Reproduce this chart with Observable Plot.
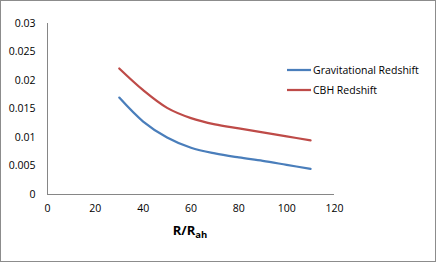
<!DOCTYPE html>
<html>
<head>
<meta charset="utf-8">
<script src="https://cdn.jsdelivr.net/npm/d3@7"></script>
<script src="https://cdn.jsdelivr.net/npm/@observablehq/plot@0.6"></script>
<style>
  html, body { margin: 0; padding: 0; background: #fff; }
  #chart { position: relative; width: 436px; height: 262px; }
</style>
</head>
<body>
<div id="chart"></div>
<script>
const xValues = [30, 40, 50, 60, 70, 80, 90, 100, 110];
const gravitational = [0.0170, 0.0128, 0.0100, 0.0082, 0.0072, 0.0065, 0.0059, 0.0052, 0.0045];
const cbh = [0.0221, 0.0183, 0.0152, 0.0134, 0.0123, 0.0116, 0.0109, 0.0102, 0.0095];
const seriesNames = ["Gravitational Redshift", "CBH Redshift"];
const seriesColors = ["#4A7EBB", "#BE4B48"];
const xTicks = [0, 20, 40, 60, 80, 100, 120];
const yTicks = [0, 0.005, 0.01, 0.015, 0.02, 0.025, 0.03];

const data = [];
xValues.forEach((x, i) => {
  data.push({x, y: gravitational[i], s: seriesNames[0]});
  data.push({x, y: cbh[i], s: seriesNames[1]});
});

const font = "'Open Sans', 'Liberation Sans', sans-serif";
const plot = Plot.plot({
  width: 436,
  height: 262,
  marginLeft: 47,
  marginRight: 102,
  marginTop: 23,
  marginBottom: 68,
  style: {fontFamily: font, fontSize: "10.5px", color: "#000", background: "#fff"},
  x: {domain: [0, 120], ticks: xTicks, label: null},
  y: {domain: [0, 0.03], ticks: yTicks, label: null},
  color: {domain: seriesNames, range: seriesColors},
  marks: [
    Plot.axisX({ticks: xTicks, tickSize: 0, tickPadding: 10, tickFormat: d => String(d), fill: "#000", fontSize: 10.5}),
    Plot.axisY({ticks: yTicks, tickSize: 0, tickPadding: 12, tickFormat: d => String(d), fill: "#000", fontSize: 10.5}),
    Plot.ruleX([0], {stroke: "#868686", strokeWidth: 1}),
    Plot.ruleY([0], {stroke: "#868686", strokeWidth: 1}),
    Plot.line(data, {x: "x", y: "y", z: "s", stroke: "s", strokeWidth: 2.25, curve: "catmull-rom"})
  ]
});
document.getElementById("chart").appendChild(plot);

const svg = d3.select(plot);
// outer border
svg.append("rect").attr("x", 0.5).attr("y", 0.5).attr("width", 435).attr("height", 261)
  .attr("fill", "none").attr("stroke", "#8c8c8c").attr("stroke-width", 1);

// axis title with subscript
const title = svg.append("text").attr("x", 190).attr("y", 235).attr("text-anchor", "middle")
  .attr("font-family", font).attr("font-weight", "bold").attr("font-size", 13).attr("fill", "#000");
title.append("tspan").text("R/R");
title.append("tspan").attr("font-size", 9.5).attr("dy", 3).text("ah");

// legend
seriesNames.forEach((name, i) => {
  const y = 70 + i * 20;
  svg.append("line").attr("x1", 287).attr("x2", 311).attr("y1", y).attr("y2", y)
    .attr("stroke", seriesColors[i]).attr("stroke-width", 2.25);
  svg.append("text").attr("x", 313).attr("y", y).attr("dy", "0.35em").attr("text-anchor", "start")
    .attr("font-family", font).attr("font-size", 10.5).attr("fill", "#000").text(name);
});
</script>
</body>
</html>
